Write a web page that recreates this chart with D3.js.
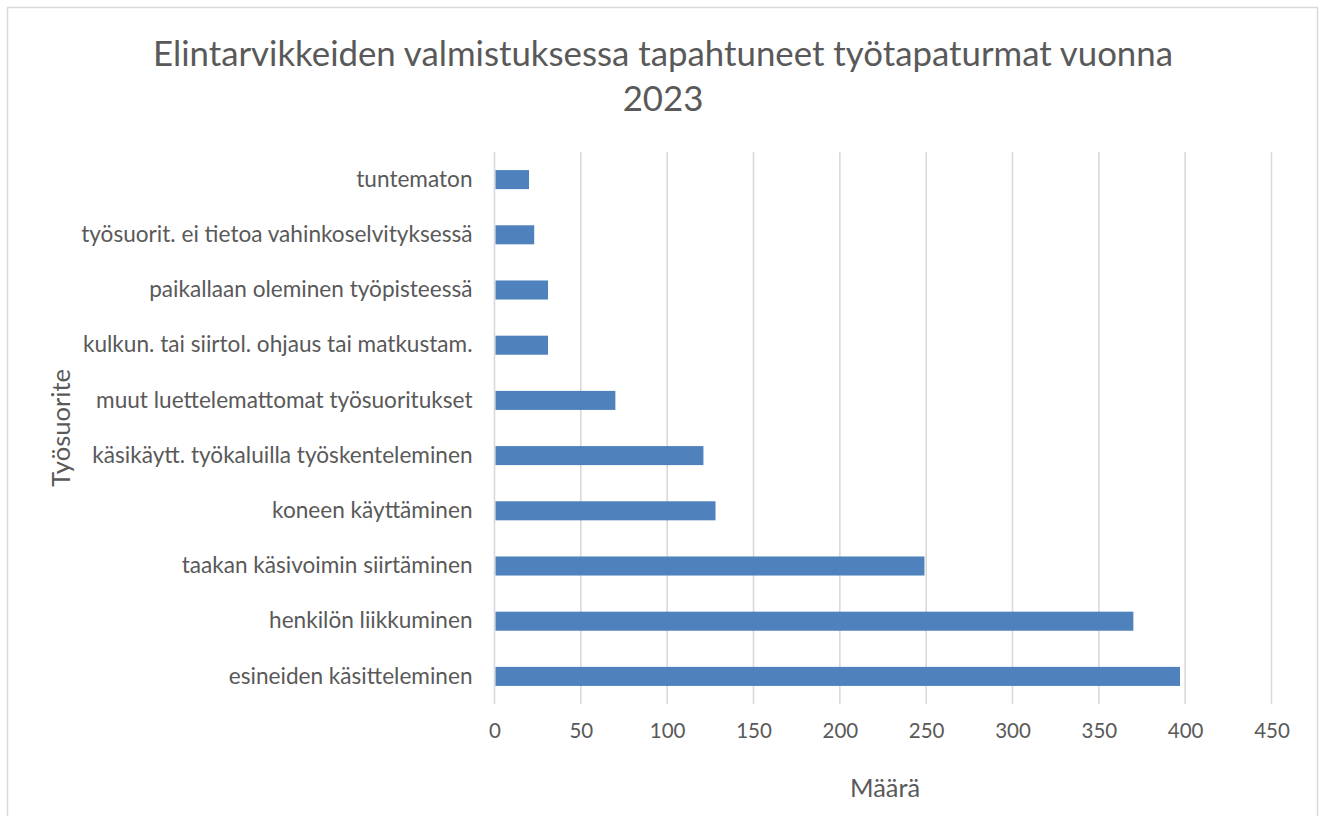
<!DOCTYPE html>
<html><head><meta charset="utf-8">
<script src="https://cdn.jsdelivr.net/npm/d3@7"></script>
<style>body{margin:0;background:#fff}svg{display:block}text{font-family:Lato,"Open Sans",sans-serif;fill:#595959}</style>
</head><body>
<script>
const categories = ["tuntematon","työsuorit. ei tietoa vahinkoselvityksessä","paikallaan oleminen työpisteessä","kulkun. tai siirtol. ohjaus tai matkustam.","muut luettelemattomat työsuoritukset","käsikäytt. työkaluilla työskenteleminen","koneen käyttäminen","taakan käsivoimin siirtäminen","henkilön liikkuminen","esineiden käsitteleminen"];
const values = [20,23,31,31,70,121,128,249,370,397];
const xTicks = [0,50,100,150,200,250,300,350,400,450];
const titleLines = ["Elintarvikkeiden valmistuksessa tapahtuneet työtapaturmat vuonna","2023"];
const xTitle = "Määrä", yTitle = "Työsuorite";

const W=1323,H=816;
const svg=d3.select("body").append("svg").attr("width",W).attr("height",H);
svg.append("rect").attr("x",7.5).attr("y",7.5).attr("width",1310).attr("height",H+10).attr("fill","#fff").attr("stroke","#d9d9d9").attr("stroke-width",1.5);
const m={l:494.5,r:1271.5,t:152,b:704};
const x=d3.scaleLinear().domain([0,450]).range([m.l,m.r]);
const y=d3.scaleBand().domain(categories).range([m.t,m.b]).paddingInner(0.655).paddingOuter(0.3275);
const g=svg.append("g");
g.selectAll("line.grid").data(xTicks).join("line").attr("x1",d=>x(d)).attr("x2",d=>x(d)).attr("y1",m.t).attr("y2",m.b).attr("stroke","#d9d9d9").attr("stroke-width",1.6);
g.selectAll("rect.bar").data(categories).join("rect").attr("x",x(0)+1).attr("y",d=>y(d)).attr("height",y.bandwidth()).attr("width",(d,i)=>x(values[i])-x(0)-1).attr("fill","#4f81bd");
const xa=d3.axisBottom(x).tickValues(xTicks).tickSize(0).tickPadding(0);
const xg=svg.append("g").attr("transform",`translate(0,${m.b+19})`).call(xa);
xg.select(".domain").remove();
xg.selectAll("text").attr("font-size",20.5).attr("dy","0.75em").style("font-family","Lato,sans-serif").attr("fill","#595959");
const ya=d3.axisLeft(y).tickSize(0).tickPadding(22);
const yg=svg.append("g").attr("transform",`translate(${m.l},0)`).call(ya);
yg.select(".domain").remove();
yg.selectAll("text").attr("font-size",22.6).style("font-family","Lato,sans-serif").attr("fill","#595959");
svg.selectAll("text.title").data(titleLines).join("text").attr("class","title").attr("x",663).attr("y",(d,i)=>66+i*45).attr("text-anchor","middle").attr("font-size",34.8).text(d=>d);
svg.append("text").attr("x",885).attr("y",797).attr("text-anchor","middle").attr("font-size",25.4).text(xTitle);
svg.append("text").attr("transform","translate(70,428) rotate(-90)").attr("text-anchor","middle").attr("font-size",25.6).text(yTitle);
</script>
</body></html>
